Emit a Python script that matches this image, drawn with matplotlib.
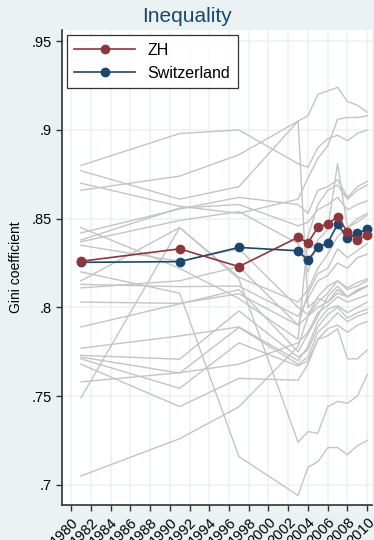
import matplotlib.pyplot as plt

plt.rcParams['font.family'] = ['Liberation Sans', 'DejaVu Sans']

# survey years
years = [1981, 1991, 1997, 2003, 2004, 2005, 2006, 2007, 2008, 2009, 2010]

# Gini coefficient, Zurich and Switzerland
zh = [.826, .833, .823, .8395, .8364, .8451, .8471, .8511, .8426, .838, .8409]
ch = [.8254, .8258, .8338, .8319, .8267, .8338, .8364, .8468, .8393, .8417, .8441]

# other cantons (grey background lines)
cantons = [
    [.880, .898, .900, .881, .879, .890, .895, .897, .894, .898, .900],
    [.866, .874, .886, .905, .908, .920, .922, .924, .916, .914, .910],
    [.877, .861, .868, .905, .800, .805, .803, .808, .806, .810, .812],
    [.870, .857, .853, .861, .873, .884, .891, .906, .907, .907, .908],
    [.845, .822, .805, .782, .840, .858, .866, .869, .861, .866, .869],
    [.842, .8555, .862, .858, .853, .866, .868, .872, .862, .868, .871],
    [.838, .856, .858, .846, .848, .855, .858, .862, .855, .858, .860],
    [.837, .849, .854, .836, .820, .838, .844, .881, .845, .848, .852],
    [.815, .845, .817, .803, .810, .822, .830, .840, .845, .850, .853],
    [.813, .8117, .812, .795, .805, .815, .818, .825, .822, .828, .830],
    [.803, .8023, .8077, .790, .808, .819, .822, .833, .828, .832, .836],
    [.789, .802, .810, .775, .785, .795, .806, .812, .806, .809, .812],
    [.777, .7839, .789, .770, .778, .792, .799, .801, .797, .800, .803],
    [.773, .7708, .798, .772, .776, .789, .796, .800, .794, .797, .799],
    [.772, .763, .7887, .768, .772, .786, .791, .797, .792, .795, .797],
    [.771, .7544, .780, .767, .770, .782, .788, .790, .786, .790, .792],
    [.768, .7441, .760, .759, .768, .782, .784, .788, .771, .771, .776],
    [.758, .7632, .768, .780, .786, .797, .801, .806, .803, .805, .807],
    [.749, .845, .816, .724, .730, .729, .744, .747, .746, .750, .762],
    [.705, .726, .744, .778, .795, .800, .803, .810, .806, .809, .812],
    [.820, .808, .716, .694, .710, .713, .721, .721, .717, .722, .725],
    [.835, .826, .833, .800, .796, .806, .812, .815, .811, .814, .816],
    [.811, .815, .823, .790, .795, .803, .808, .815, .810, .812, .815],
]

xticks = list(range(1980, 2011, 2))
yticks = [.7, .75, .8, .85, .9, .95]
ylabels = ['.7', '.75', '.8', '.85', '.9', '.95']

bg = '#eaf2f3'
navy = '#1a476f'
maroon = '#90353b'

fig = plt.figure(figsize=(3.74, 5.4), dpi=100, facecolor=bg)
ax = fig.add_axes([0.166, 0.065, 0.829, 0.879])
ax.set_facecolor('white')

for c in cantons:
    ax.plot(years, c, color='#c4c4c4', lw=1.0, zorder=2)

ax.plot(years, zh, color=maroon, lw=1.2, marker='o', ms=6, label='ZH', zorder=4)
ax.plot(years, ch, color=navy, lw=1.2, marker='o', ms=6, label='Switzerland', zorder=3)

ax.set_xlim(1979.09, 2010.5)
ax.set_ylim(0.6887, 0.9562)
ax.set_xticks(xticks)
ax.set_xticklabels([str(x) for x in xticks], rotation=45, ha='right', va='top',
                   rotation_mode='anchor', fontsize=10.5)
ax.set_yticks(yticks)
ax.set_yticklabels(ylabels, fontsize=10.5)
ax.grid(True, color=bg, lw=1.1, zorder=0)
ax.set_axisbelow(True)
ax.tick_params(length=4, width=1, color='#333333')
for s in ['top', 'right']:
    ax.spines[s].set_visible(False)
for s in ['left', 'bottom']:
    ax.spines[s].set_linewidth(1.2)
    ax.spines[s].set_color('#333333')

ax.set_ylabel('Gini coefficient', fontsize=10, labelpad=6)
fig.suptitle('Inequality', color=navy, fontsize=15, y=0.987, va='top')

leg = ax.legend(loc='upper left', bbox_to_anchor=(0.016, 0.989), borderaxespad=0,
                fontsize=11.5, frameon=True, fancybox=False, edgecolor='black',
                handlelength=3.8, handletextpad=0.8, borderpad=0.45,
                labelspacing=0.5)
leg.get_frame().set_linewidth(0.9)

plt.savefig('out.png', dpi=100, facecolor=bg)
